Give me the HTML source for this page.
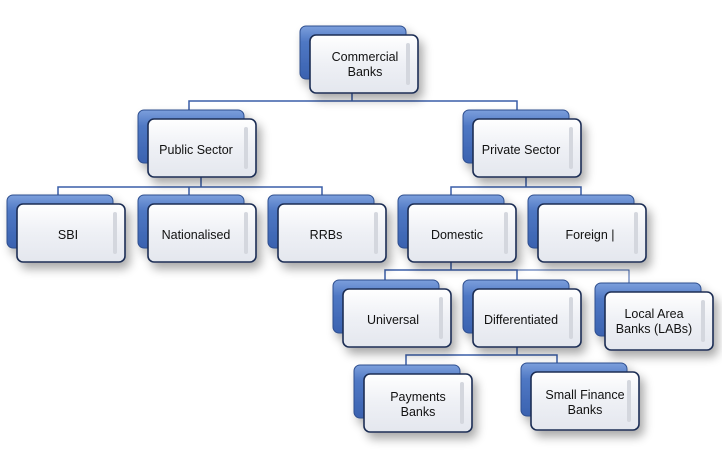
<!DOCTYPE html>
<html><head><meta charset="utf-8"><style>
html,body{margin:0;padding:0;background:#fff;}
svg{display:block;}
text{font-family:"Liberation Sans",sans-serif;font-size:12.5px;fill:#111;text-anchor:middle;}
</style></head><body>
<svg width="722" height="451" viewBox="0 0 722 451" xmlns="http://www.w3.org/2000/svg">
<defs>
<linearGradient id="bg" x1="0" y1="0" x2="0" y2="1">
<stop offset="0" stop-color="#7c9fdc"/><stop offset="0.3" stop-color="#4f78c4"/><stop offset="1" stop-color="#3a62b0"/>
</linearGradient>
<linearGradient id="fg" x1="0" y1="0" x2="0" y2="1">
<stop offset="0" stop-color="#ffffff"/><stop offset="0.5" stop-color="#eef0f5"/><stop offset="1" stop-color="#e4e7ee"/>
</linearGradient>
<filter id="sh" x="-30%" y="-30%" width="170%" height="180%">
<feGaussianBlur in="SourceAlpha" stdDeviation="5"/><feOffset dx="4" dy="6"/>
<feComponentTransfer><feFuncA type="linear" slope="0.35"/></feComponentTransfer>
<feMerge><feMergeNode/><feMergeNode in="SourceGraphic"/></feMerge>
</filter>
<g id="node">
<rect x="-10" y="-9" width="106" height="53" rx="6" fill="url(#bg)" stroke="#2f4f8f" stroke-width="1"/>
<rect x="0" y="0" width="108" height="58" rx="6" fill="url(#fg)" stroke="#1f2f55" stroke-width="1.6"/>
<rect x="96" y="8" width="4" height="42" rx="2" fill="#d4d7de"/>
</g>
</defs>
<g stroke="#3a5ea8" stroke-width="1.5" fill="none">
<path d="M352 93V101M189 110V101H517V110"/>
<path d="M201 177V187M58 196V187H322V196M189 187V196"/>
<path d="M526 177V187M451 196V187H581V196"/>
<path d="M451 262V270M385 281V270H517V281"/>
<path d="M517 270H629V283" stroke-width="1"/>
<path d="M517 347V355M406 366V355H557V364"/>
</g>
<g filter="url(#sh)">
<use href="#node" x="310" y="35"/>
<use href="#node" x="148" y="119"/>
<use href="#node" x="473" y="119"/>
<use href="#node" x="17" y="204"/>
<use href="#node" x="148" y="204"/>
<use href="#node" x="278" y="204"/>
<use href="#node" x="408" y="204"/>
<use href="#node" x="538" y="204"/>
<use href="#node" x="343" y="289"/>
<use href="#node" x="473" y="289"/>
<use href="#node" x="605" y="292"/>
<use href="#node" x="364" y="374"/>
<use href="#node" x="531" y="372"/>
</g>
<text x="365" y="61">Commercial</text><text x="365" y="76">Banks</text>
<text x="196" y="154">Public Sector</text>
<text x="521" y="154">Private Sector</text>
<text x="68" y="239">SBI</text>
<text x="196" y="239">Nationalised</text>
<text x="326" y="239">RRBs</text>
<text x="457" y="239">Domestic</text>
<text x="590" y="239">Foreign |</text>
<text x="393" y="324">Universal</text>
<text x="521" y="324">Differentiated</text>
<text x="654" y="318">Local Area</text><text x="654" y="333">Banks (LABs)</text>
<text x="418" y="401">Payments</text><text x="418" y="416">Banks</text>
<text x="585" y="399">Small Finance</text><text x="585" y="414">Banks</text>
</svg>
</body></html>
